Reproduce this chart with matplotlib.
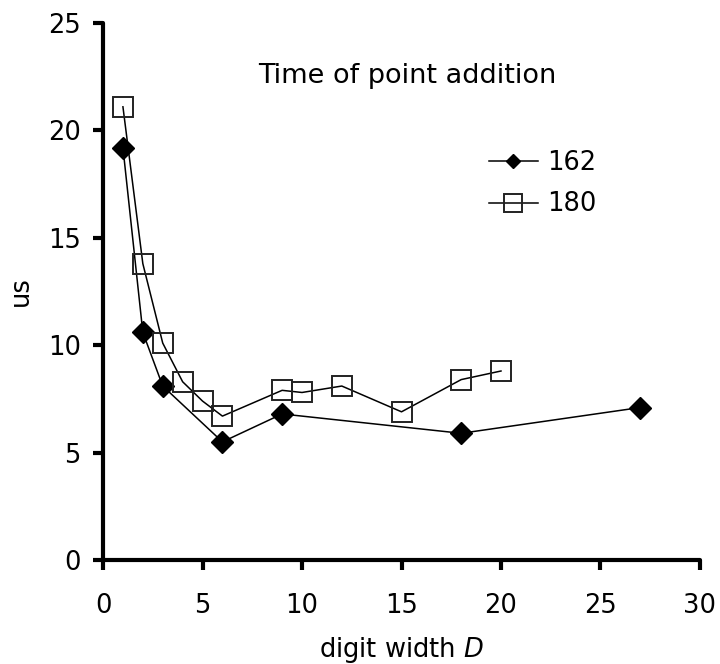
import matplotlib
matplotlib.use("Agg")
import matplotlib.pyplot as plt

x162 = [1, 2, 3, 6, 9, 18, 27]
y162 = [19.2, 10.6, 8.1, 5.5, 6.8, 5.9, 7.1]
x180 = [1, 2, 3, 4, 5, 6, 9, 10, 12, 15, 18, 20]
y180 = [21.1, 13.8, 10.1, 8.3, 7.4, 6.7, 7.9, 7.8, 8.1, 6.9, 8.4, 8.8]
xticks = [0, 5, 10, 15, 20, 25, 30]
yticks = [0, 5, 10, 15, 20, 25]

plt.rcParams['font.family'] = ['DejaVu Sans']
plt.rcParams['mathtext.fontset'] = 'dejavusans'

FS = 18.5

fig = plt.figure(figsize=(7.2, 6.64), dpi=100)
ax = fig.add_axes([0.1431, 0.1566, 0.8291, 0.8087])

l1, = ax.plot(x162, y162, color='black', lw=1.1, marker='D', markersize=11,
              markerfacecolor='black', markeredgecolor='black', label='162', zorder=2)
l2, = ax.plot(x180, y180, color='black', lw=1.1, marker='s', markersize=14.5,
              markerfacecolor='none', markeredgecolor='#222222', markeredgewidth=1.4,
              label='180', zorder=3)

ax.set_xlim(0, 30)
ax.set_ylim(0, 25)
ax.set_xticks(xticks)
ax.set_yticks(yticks)
for s in ['top', 'right']:
    ax.spines[s].set_visible(False)
for s in ['left', 'bottom']:
    ax.spines[s].set_linewidth(3)
    ax.spines[s].set_capstyle('round')
ax.tick_params(direction='out', length=7, width=3, labelsize=FS)
ax.tick_params(axis='x', pad=17)
ax.tick_params(axis='y', pad=9)
ax.set_xlabel('digit width $D$', fontsize=FS, labelpad=11)
ax.set_ylabel('us', fontsize=FS, labelpad=10)

ax.text(15.3, 22.55, 'Time of point addition', fontsize=19.5, ha='center', va='center')

leg = fig.legend(handles=[l1, l2], loc='center left', bbox_to_anchor=(0.647, 0.7236),
                 frameon=False, fontsize=FS, handlelength=1.9, handletextpad=0.35,
                 labelspacing=0.62)
hs = leg.legend_handles
hs[0].set_markersize(6.8)
hs[1].set_markersize(12.5)

fig.savefig('out.png', dpi=100)
